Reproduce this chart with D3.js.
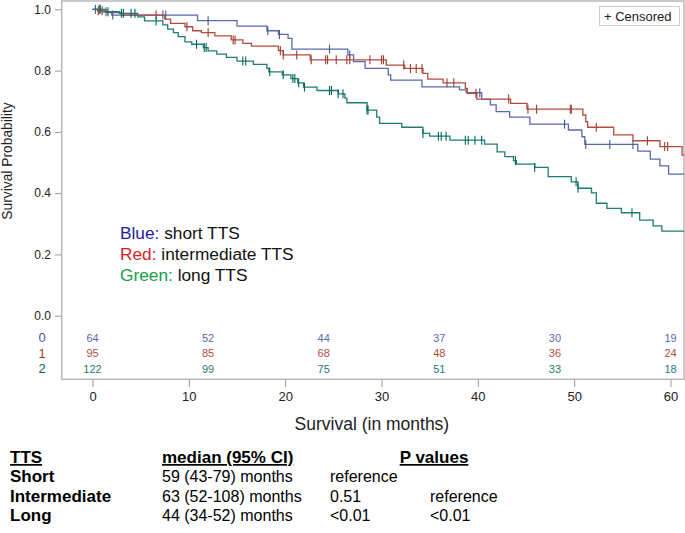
<!DOCTYPE html>
<html>
<head>
<meta charset="utf-8">
<script src="https://cdn.jsdelivr.net/npm/d3@7"></script>
<style>
  body { margin: 0; background: #fff; }
  svg text { font-family: "Liberation Sans", Arial, sans-serif; }
</style>
</head>
<body>
<div class="km-plot"></div>
<script>
// step points [month, survival after the drop]
const blueSteps = [[1.0,0.992],[2.0,0.981],[10.9,0.963],[15.0,0.945],[18.1,0.930],[19.3,0.918],[20.3,0.905],[20.7,0.870],
  [26.5,0.851],[27.1,0.829],[28.3,0.807],[30.7,0.786],[30.95,0.769],[34.2,0.747],[38.1,0.737],[38.8,0.728],[40.4,0.706],
  [41.3,0.688],[41.9,0.666],[43.3,0.648],[45.4,0.625],[49.4,0.606],[50.8,0.584],[51.1,0.559],[56.6,0.537],[57.9,0.511],
  [58.9,0.489],[59.8,0.462]];
const redSteps = [[0.5,0.995],[1.5,0.989],[3.0,0.981],[7.5,0.968],[8.1,0.954],[9.6,0.943],[10.4,0.930],[11.3,0.924],
  [12.7,0.913],[14.4,0.900],[15.6,0.889],[16.5,0.880],[19.3,0.865],[19.8,0.851],[22.6,0.835],[30.5,0.818],[32.4,0.807],
  [34.3,0.791],[34.8,0.772],[36.4,0.760],[38.7,0.742],[38.9,0.726],[39.9,0.707],[43.4,0.693],[45.1,0.674],[50.9,0.655],
  [51.2,0.633],[51.4,0.615],[54.1,0.590],[56.1,0.571],[58.9,0.552],[61.2,0.524]];
const greenSteps = [[1.3,0.992],[2.8,0.987],[4.7,0.975],[5.4,0.962],[7.3,0.949],[7.8,0.935],[8.4,0.924],[8.9,0.911],
  [9.6,0.894],[10.3,0.886],[11.5,0.875],[12.0,0.864],[12.9,0.854],[13.9,0.843],[15.0,0.831],[16.7,0.820],[18.1,0.807],
  [18.3,0.796],[19.7,0.786],[20.6,0.774],[21.3,0.760],[21.9,0.746],[23.3,0.735],[25.5,0.724],[26.2,0.710],[26.4,0.695],
  [28.5,0.671],[29.5,0.648],[29.8,0.628],[32.1,0.615],[34.3,0.595],[35.0,0.586],[37.1,0.573],[40.7,0.560],[42.0,0.535],
  [42.8,0.519],[43.7,0.506],[44.0,0.495],[45.9,0.484],[47.3,0.454],[49.7,0.437],[50.4,0.416],[51.8,0.401],[52.3,0.367],
  [53.4,0.350],[54.9,0.336],[56.8,0.312],[58.2,0.293],[59.1,0.276]];

// censored observations (months)
const blueCens = [0.3,0.7,1.4,2.1,7.3,7.6,12.0,18.2,19.4,24.6,26.7,40.2,49.0,51.2,53.7,56.1];
const redCens = [0.6,1.0,6.6,9.8,12.0,14.6,14.8,19.5,19.8,21.2,22.7,24.2,24.4,25.3,26.4,26.7,28.8,30.0,30.2,32.3,33.0,
  33.6,34.2,36.8,37.5,39.8,43.2,45.2,46.1,49.6,49.7,52.3,57.6,59.4,59.7];
const greenCens = [0.8,1.6,3.0,3.2,4.0,4.4,6.6,10.8,11.6,11.8,15.6,15.9,18.4,19.8,20.8,21.0,21.4,22.0,24.6,24.8,25.5,
  26.0,28.5,28.6,34.3,35.9,36.2,36.7,38.7,39.0,39.7,40.4,43.9,45.9,50.2,50.4,56.0];

// number at risk
const riskTimes = [0, 12, 24, 36, 48, 60];
const riskBlue = [64, 52, 44, 37, 30, 19];
const riskRed = [95, 85, 68, 48, 36, 24];
const riskGreen = [122, 99, 75, 51, 33, 18];
const groupLabels = ['0', '1', '2'];

const xTicks = [0, 10, 20, 30, 40, 50, 60];
const yTicks = [0, 0.2, 0.4, 0.6, 0.8, 1.0];
const maxTime = 61.4;

const legendLines = [
  {key: 'Blue:', text: ' short TTS', color: '#1c1ca4'},
  {key: 'Red:', text: ' intermediate TTS', color: '#d21f1f'},
  {key: 'Green:', text: ' long TTS', color: '#16a046'}
];

const tableHead = ['TTS', 'median (95% CI)', 'P values'];
const tableGroups = ['Short', 'Intermediate', 'Long'];
const tableMedians = ['59 (43-79) months', '63 (52-108) months', '44 (34-52) months'];
const tablePvsShort = ['reference', '0.51', '<0.01'];
const tablePvsInter = ['', 'reference', '<0.01'];

const width = 685, height = 533;
const svg = d3.select('.km-plot').append('svg')
  .attr('width', width).attr('height', height);

const x = d3.scaleLinear().domain([-3.2, maxTime]).range([61.7, 684]);
const y = d3.scaleLinear().domain([0, 1]).range([315.7, 9.3]);

const groups = [
  {steps: blueSteps, cens: blueCens, risk: riskBlue, color: '#445694', light: '#5a6aae'},
  {steps: redSteps, cens: redCens, risk: riskRed, color: '#A23A2E', light: '#b24c40'},
  {steps: greenSteps, cens: greenCens, risk: riskGreen, color: '#01665E', light: '#1f7d72'}
];

// frame
svg.append('rect')
  .attr('x', 61.7).attr('y', 1)
  .attr('width', 684 - 61.7).attr('height', 378.3)
  .attr('fill', 'none').attr('stroke', '#b8b8b8').attr('stroke-width', 1.5);

// axes
const yAxis = svg.append('g')
  .attr('transform', 'translate(61,0)')
  .call(d3.axisLeft(y).tickValues(yTicks).tickFormat(d3.format('.1f')).tickSize(6).tickPadding(4));
yAxis.select('.domain').remove();
yAxis.selectAll('line').attr('stroke', '#999');
yAxis.selectAll('text').attr('font-size', 12).attr('fill', '#222')
  .style('font-family', '"Liberation Sans", Arial, sans-serif');

const xAxis = svg.append('g')
  .attr('transform', 'translate(0,380)')
  .call(d3.axisBottom(x).tickValues(xTicks).tickSize(7).tickPadding(5));
xAxis.select('.domain').remove();
xAxis.selectAll('line').attr('stroke', '#999');
xAxis.selectAll('text').attr('font-size', 13).attr('fill', '#222')
  .style('font-family', '"Liberation Sans", Arial, sans-serif');

svg.append('text')
  .attr('transform', 'translate(12,161) rotate(-90)')
  .attr('text-anchor', 'middle')
  .attr('font-size', 13.8).attr('fill', '#222')
  .text('Survival Probability');

svg.append('text')
  .attr('x', x(29)).attr('y', 430)
  .attr('text-anchor', 'middle')
  .attr('font-size', 17.5).attr('fill', '#222')
  .text('Survival (in months)');

// curves
const survAt = function(steps, t) {
  let s = 1;
  steps.forEach(p => { if (p[0] <= t) s = p[1]; });
  return s;
};

const line = d3.line().x(d => x(d[0])).y(d => y(d[1])).curve(d3.curveStepAfter);

groups.forEach(g => {
  const pts = [[0, 1]].concat(g.steps);
  pts.push([maxTime, pts[pts.length - 1][1]]);
  svg.append('path')
    .datum(pts)
    .attr('d', line)
    .attr('fill', 'none')
    .attr('stroke', g.light)
    .attr('stroke-width', 1.3);

  svg.selectAll(null)
    .data(g.cens)
    .enter()
    .append('line')
    .attr('x1', d => x(d)).attr('x2', d => x(d))
    .attr('y1', d => y(survAt(g.steps, d)) - 4.5)
    .attr('y2', d => y(survAt(g.steps, d)) + 4.5)
    .attr('stroke', g.color)
    .attr('stroke-width', 1.1);
});

// number at risk rows
const rowY = [341.5, 357, 372.5];
groups.forEach((g, i) => {
  svg.append('text')
    .attr('x', 42).attr('y', rowY[i] + 0.5)
    .attr('text-anchor', 'middle')
    .attr('font-size', 13).attr('fill', g.color)
    .text(groupLabels[i]);

  svg.selectAll(null)
    .data(g.risk)
    .enter()
    .append('text')
    .attr('x', (d, j) => x(riskTimes[j]))
    .attr('y', rowY[i])
    .attr('text-anchor', 'middle')
    .attr('font-size', 11).attr('fill', g.light)
    .text(d => d);
});

// censored legend
svg.append('rect')
  .attr('x', 599.5).attr('y', 6.5).attr('width', 80).attr('height', 19)
  .attr('fill', '#fff').attr('stroke', '#cfcfcf');
svg.append('text')
  .attr('x', 604).attr('y', 20.5)
  .attr('font-size', 13).attr('fill', '#222')
  .text('+ Censored');

// colour legend inside plot
legendLines.forEach((l, i) => {
  const t = svg.append('text')
    .attr('x', 120).attr('y', 239 + i * 21)
    .attr('font-size', 17.3);
  t.append('tspan').attr('fill', l.color).text(l.key);
  t.append('tspan').attr('fill', '#111').text(l.text);
});

// summary table
const colX = [10, 162, 330, 430];
const headY = 463, rowStep = 19.3;
svg.append('text').attr('x', colX[0]).attr('y', headY)
  .attr('font-size', 17).attr('font-weight', 'bold')
  .style('text-decoration', 'underline').text(tableHead[0]);
svg.append('text').attr('x', colX[1]).attr('y', headY)
  .attr('font-size', 17).attr('font-weight', 'bold')
  .style('text-decoration', 'underline').text(tableHead[1]);
svg.append('text').attr('x', 434).attr('y', headY)
  .attr('text-anchor', 'middle')
  .attr('font-size', 17).attr('font-weight', 'bold')
  .style('text-decoration', 'underline').text(tableHead[2]);

tableGroups.forEach((name, i) => {
  const yy = headY + (i + 1) * rowStep;
  svg.append('text').attr('x', colX[0]).attr('y', yy)
    .attr('font-size', 17).attr('font-weight', 'bold').text(name);
  svg.append('text').attr('x', colX[1]).attr('y', yy)
    .attr('font-size', 16).text(tableMedians[i]);
  svg.append('text').attr('x', colX[2]).attr('y', yy)
    .attr('font-size', 16).text(tablePvsShort[i]);
  svg.append('text').attr('x', colX[3]).attr('y', yy)
    .attr('font-size', 16).text(tablePvsInter[i]);
});
</script>
</body>
</html>
